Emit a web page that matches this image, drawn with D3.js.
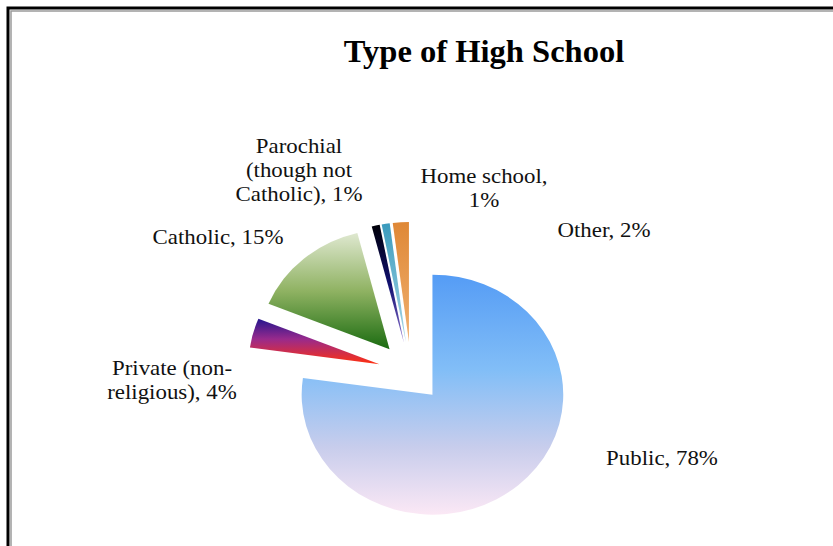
<!DOCTYPE html>
<html><head><meta charset="utf-8">
<script src="https://cdn.jsdelivr.net/npm/d3@7/dist/d3.min.js"></script>
<style>body{margin:0;background:#fff}svg{display:block}
text{font-family:"Tinos","Liberation Serif","Noto Serif","DejaVu Serif","Times New Roman",Times,serif;}</style>
</head><body>
<script>
const categories = ["Public", "Private (non-religious)", "Catholic", "Parochial (though not Catholic)", "Home school", "Other"];
const values = [78, 4, 15, 1, 1, 2];
const labelLines = [
  ["Public, 78%"],
  ["Private (non-", "religious), 4%"],
  ["Catholic, 15%"],
  ["Parochial", "(though not", "Catholic), 1%"],
  ["Home school,", "1%"],
  ["Other, 2%"]
];
const labelPos = [[662, 465], [172, 375], [218, 244], [299, 153], [484, 183], [604, 237]];
const gradStops = [
  [[0, "#559cf5"], [0.4, "#82bef7"], [0.72, "#c8cdec"], [1, "#fbe8f5"]],
  [[0, "#24168e"], [0.45, "#992a8c"], [1, "#ff3010"]],
  [[0, "#dfe8d0"], [0.5, "#8fb262"], [1, "#1a6b10"]],
  [[0, "#000008"], [0.5, "#10106e"], [1, "#8a70d0"]],
  [[0, "#3a9bbd"], [1, "#a8d6e6"]],
  [[0, "#df8836"], [1, "#f0b070"]]
];

const W = 833, H = 546;
const svg = d3.select("body").append("svg").attr("width", W).attr("height", H);
const defs = svg.append("defs");
gradStops.forEach((st, i) => {
  const g = defs.append("linearGradient").attr("id", "g" + i)
    .attr("x1", 0).attr("y1", 0).attr("x2", 0).attr("y2", 1);
  st.forEach(s => g.append("stop").attr("offset", s[0]).attr("stop-color", s[1]));
});

// frame
svg.append("path").attr("d", `M8,${H} L8,8 L${W},8`).attr("fill", "none").attr("stroke", "#000").attr("stroke-width", 3);
svg.append("path").attr("d", `M11,${H} L11,11 L${W},11`).attr("fill", "none").attr("stroke", "#9a9a9a").attr("stroke-width", 1.5);

// title
svg.append("text").attr("transform", "translate(484,62) scale(1.05,1)").attr("text-anchor", "middle")
  .attr("font-weight", "bold")
  .attr("font-size", 31).attr("fill", "#000").text("Type of High School");

const pie = d3.pie().sort(null).value(d => d)(values);
const R = 120, explode = 30;
const arc = d3.arc().innerRadius(0).outerRadius(R);
const g = svg.append("g").attr("transform", "translate(411,372) scale(1.09,1)");
g.selectAll("path").data(pie).join("path")
  .attr("d", arc)
  .attr("fill", (d, i) => `url(#g${i})`)
  .attr("transform", d => {
    const m = (d.startAngle + d.endAngle) / 2;
    return `translate(${Math.sin(m) * explode},${-Math.cos(m) * explode})`;
  });

// labels
labelLines.forEach((lines, i) => {
  const t = svg.append("text")
    .attr("transform", `translate(${labelPos[i][0]},${labelPos[i][1]}) scale(1.09,1)`)
    .attr("text-anchor", "middle")
    .attr("font-size", 21).attr("fill", "#111");
  lines.forEach((l, j) => t.append("tspan").attr("x", 0).attr("y", j * 24).text(l));
});
</script>
</body></html>
